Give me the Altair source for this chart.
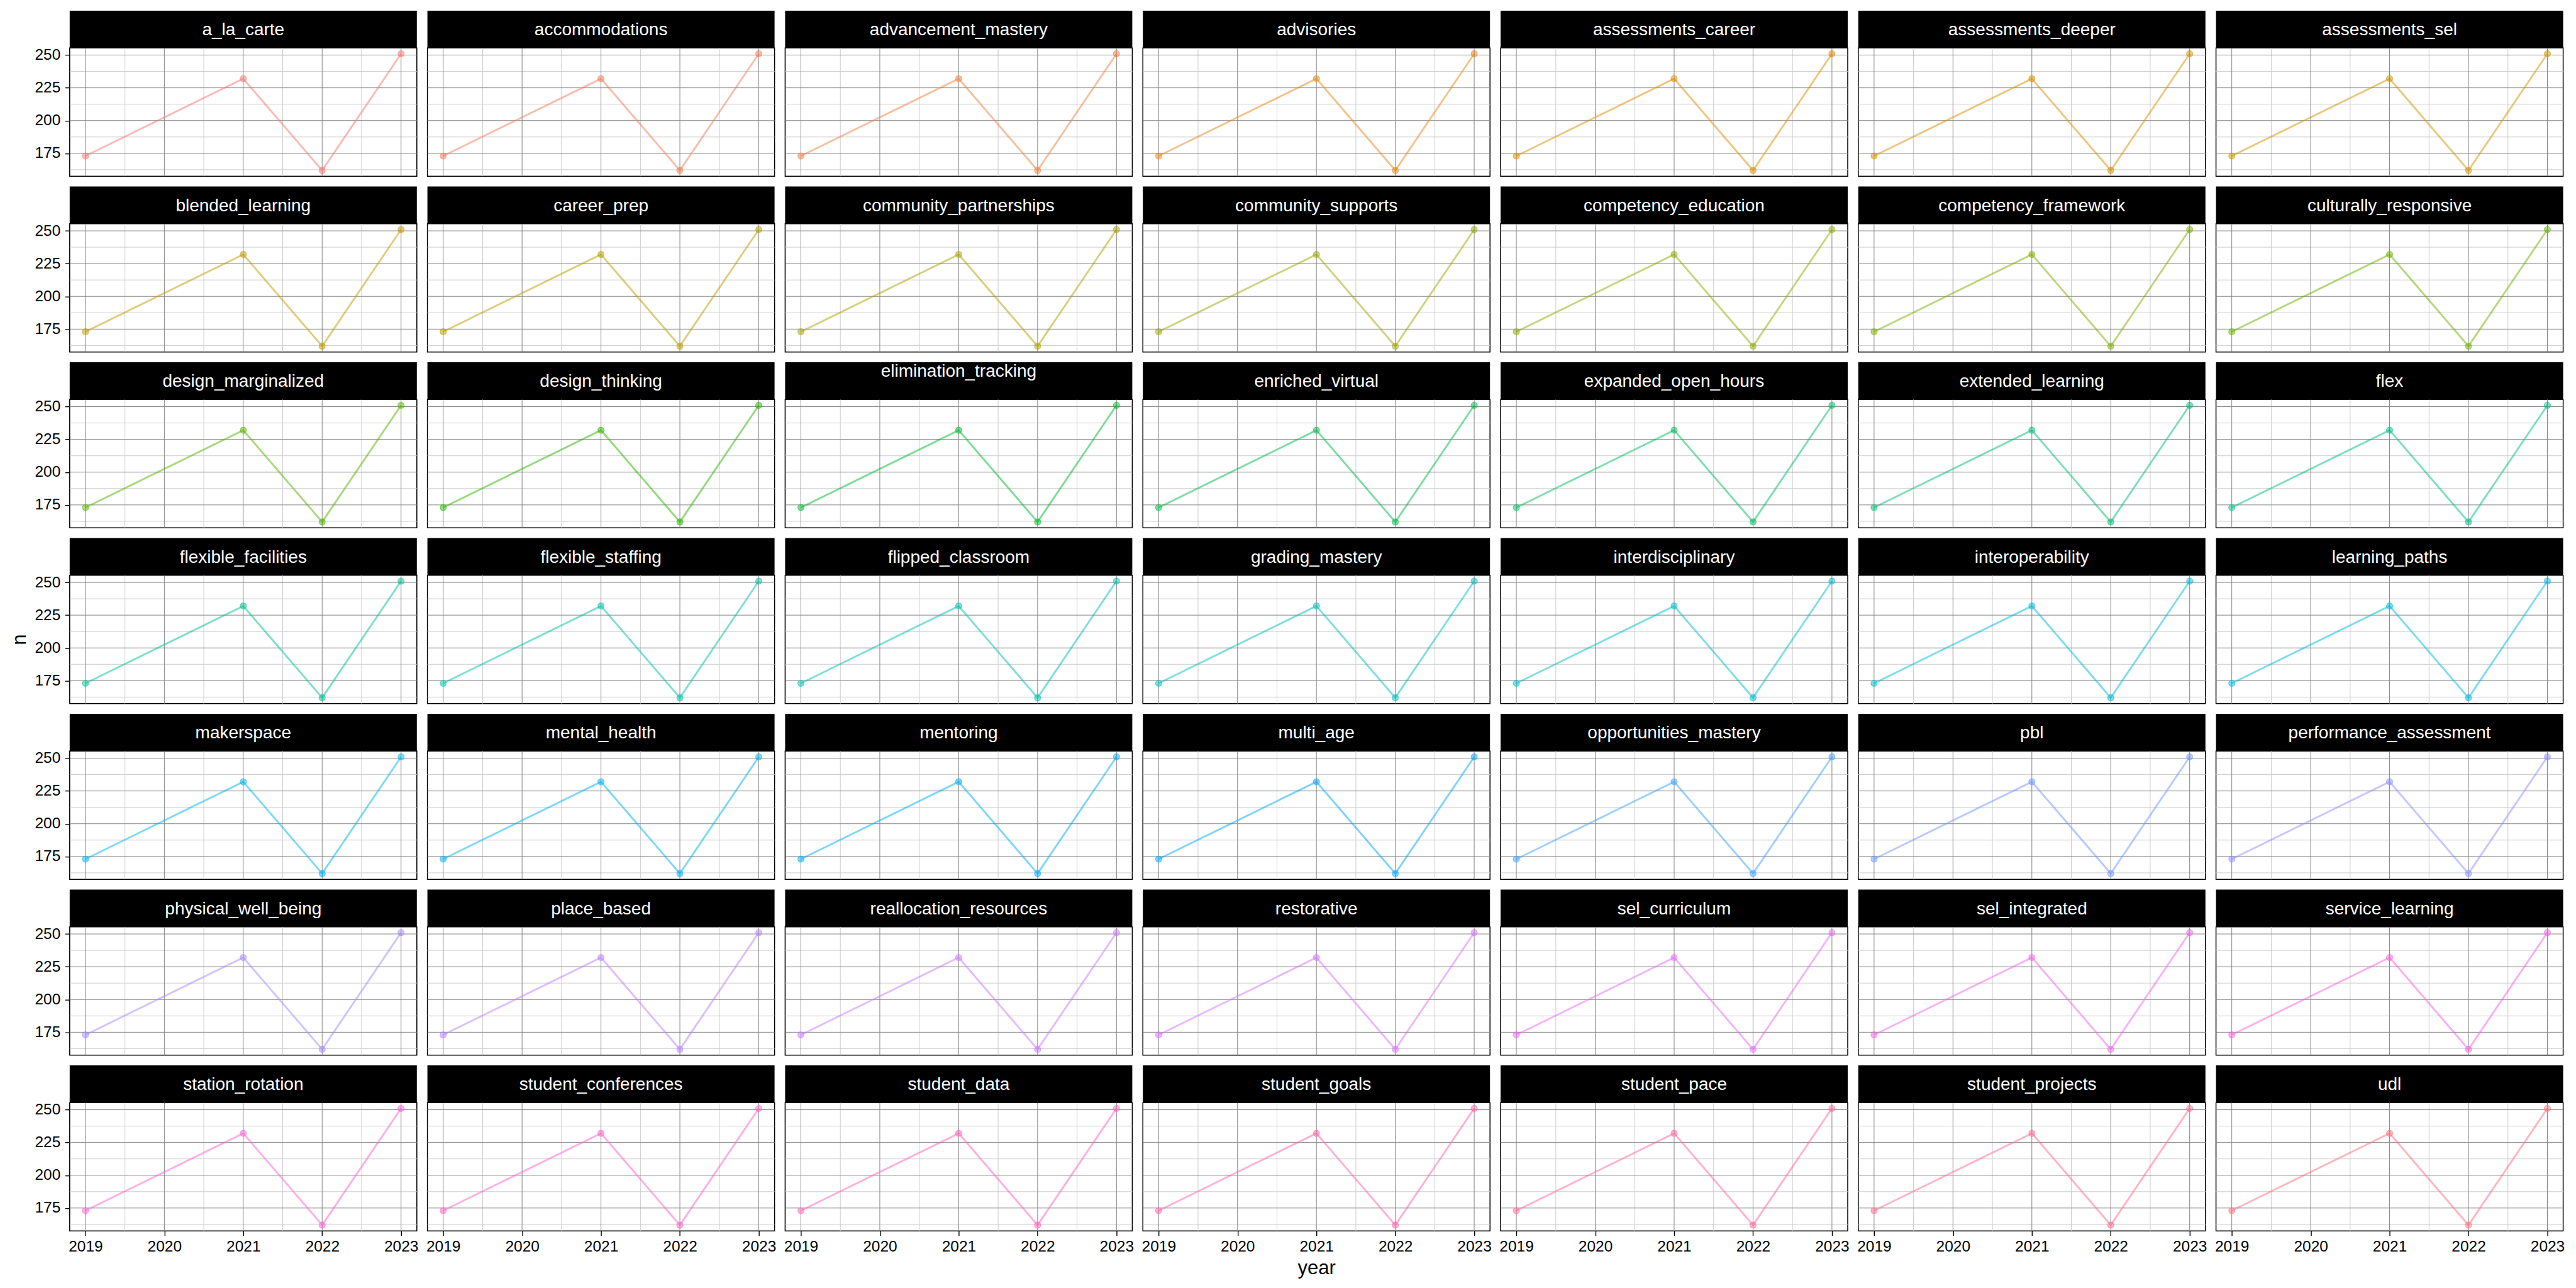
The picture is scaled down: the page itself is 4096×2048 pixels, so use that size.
import math
import altair as alt
import pandas as pd

# ---------------- data ----------------
categories = [
    "a_la_carte", "accommodations", "advancement_mastery", "advisories",
    "assessments_career", "assessments_deeper", "assessments_sel",
    "blended_learning", "career_prep", "community_partnerships", "community_supports",
    "competency_education", "competency_framework", "culturally_responsive",
    "design_marginalized", "design_thinking", "elimination_tracking", "enriched_virtual",
    "expanded_open_hours", "extended_learning", "flex",
    "flexible_facilities", "flexible_staffing", "flipped_classroom", "grading_mastery",
    "interdisciplinary", "interoperability", "learning_paths",
    "makerspace", "mental_health", "mentoring", "multi_age",
    "opportunities_mastery", "pbl", "performance_assessment",
    "physical_well_being", "place_based", "reallocation_resources", "restorative",
    "sel_curriculum", "sel_integrated", "service_learning",
    "station_rotation", "student_conferences", "student_data", "student_goals",
    "student_pace", "student_projects", "udl",
]
years = [2019, 2021, 2022, 2023]
n_values = [173, 232, 162, 251]          # same series in every panel

x_breaks = [2019, 2020, 2021, 2022, 2023]
x_minor = [2019.5, 2020.5, 2021.5, 2022.5]
y_breaks = [175, 200, 225, 250]
y_minor = [162.5, 187.5, 212.5, 237.5]

# ---------------- styling ----------------
NCOL = 7
W, H = 552, 204          # plot area of one panel
SH = 59.3                # strip height
COL_GAP, ROW_GAP = 16.8, 16.2
FONT = "Liberation Sans"
MAJOR = "#858585"
MINOR = "#cccccc"


def hcl_hex(h, c=100.0, l=65.0):
    """R's hcl() -> hex (D65 white)."""
    Xn, Yn, Zn = 95.047, 100.0, 108.883
    hr = math.radians(h)
    U, V = c * math.cos(hr), c * math.sin(hr)
    Y = Yn * (((l + 16.0) / 116.0) ** 3 if l > 7.999592 else l / 903.3)
    t = Xn + Yn + Zn
    x, y = Xn / t, Yn / t
    uN = 2 * x / (6 * y - x + 1.5)
    vN = 4.5 * y / (6 * y - x + 1.5)
    u = U / (13 * l) + uN
    v = V / (13 * l) + vN
    X = 9.0 * Y * u / (4 * v)
    Z = -X / 3 - 5 * Y + 3 * Y / v

    def g(val):
        val = val / Yn
        val = 1.055 * val ** (1 / 2.4) - 0.055 if val > 0.00304 else 12.92 * val
        return max(0, min(255, int(round(255 * max(0.0, min(1.0, val))))))

    r = g(3.240479 * X - 1.537150 * Y - 0.498535 * Z)
    gg = g(-0.969256 * X + 1.875992 * Y + 0.041556 * Z)
    b = g(0.055648 * X - 0.204043 * Y + 1.057311 * Z)
    return "#%02X%02X%02X" % (r, gg, b)


ncat = len(categories)
colors = [hcl_hex(15 + i * 360.0 / ncat) for i in range(ncat)]

# ggplot-like 5% expansion
yr = max(n_values) - min(n_values)
y_dom = [min(n_values) - 0.05 * yr, max(n_values) + 0.05 * yr]
xr = max(years) - min(years)
x_dom = [min(years) - 0.05 * xr, max(years) + 0.05 * xr]

raised_labels = {"elimination_tracking"}

panels = []
for i, cat in enumerate(categories):
    r, c = divmod(i, NCOL)
    nrows = (ncat + NCOL - 1) // NCOL
    df = pd.DataFrame({"category": cat, "year": years, "n": n_values})
    col = colors[i]

    # axes
    if c == 0:
        yargs = dict(values=y_breaks, grid=False, domain=False, ticks=True,
                     tickSize=7.5, tickWidth=1.4, tickColor="black",
                     labelFontSize=24.5, labelColor="black", labelPadding=7.5,
                     labelFlush=False, labelOverlap=False, labelFont=FONT)
        if r == 3:
            yargs.update(title="n", titleFontSize=31, titleFont=FONT,
                         titleFontWeight="normal", titleColor="black",
                         titleAngle=270, titleX=-79.8, titleY=H / 2,
                         titleBaseline="middle", titleAlign="center")
        else:
            yargs.update(title=None)
        y_axis = alt.Axis(**yargs)
    else:
        y_axis = None
    if r == nrows - 1:
        xargs = dict(values=x_breaks, format="d", grid=False, domain=False, ticks=True,
                     tickSize=7.5, tickWidth=1.4, tickColor="black",
                     labelFontSize=24.5, labelColor="black", labelPadding=5.5,
                     labelFlush=False, labelOverlap=False, labelFont=FONT)
        if c == 3:
            xargs.update(title="year", titleFontSize=31, titleFont=FONT,
                         titleFontWeight="normal", titleColor="black",
                         titleX=W / 2, titleY=68.7, titleBaseline="alphabetic",
                         titleAlign="center")
        else:
            xargs.update(title=None)
        x_axis = alt.Axis(**xargs)
    else:
        x_axis = None

    x_enc = alt.X("year:Q", scale=alt.Scale(domain=x_dom, nice=False, zero=False), axis=x_axis)
    y_enc = alt.Y("n:Q", scale=alt.Scale(domain=y_dom, nice=False, zero=False), axis=y_axis)

    minor_v = alt.Chart(pd.DataFrame({"year": x_minor})).mark_rule(
        color=MINOR, strokeWidth=1).encode(x=x_enc)
    minor_h = alt.Chart(pd.DataFrame({"n": y_minor})).mark_rule(
        color=MINOR, strokeWidth=1).encode(y=y_enc)
    major_v = alt.Chart(pd.DataFrame({"year": x_breaks})).mark_rule(
        color=MAJOR, strokeWidth=1).encode(x=x_enc)
    major_h = alt.Chart(pd.DataFrame({"n": y_breaks})).mark_rule(
        color=MAJOR, strokeWidth=1).encode(y=y_enc)

    line = alt.Chart(df).mark_line(color=col, opacity=0.5, strokeWidth=3.0).encode(
        x=x_enc, y=y_enc)
    pts = alt.Chart(df).mark_circle(
        size=100, fill=col, stroke=col, fillOpacity=0.5, strokeOpacity=0.5,
        strokeWidth=1.2, opacity=1).encode(x=x_enc, y=y_enc)

    lab = pd.DataFrame({"label": [cat]})
    strip = alt.Chart(lab).mark_rect(color="black").encode(
        x=alt.value(0), x2=alt.value(W), y=alt.value(-SH), y2=alt.value(0))
    base_off = 23.5 if cat in raised_labels else 39.4
    strip_txt = alt.Chart(lab).mark_text(
        color="white", fontSize=28, font=FONT, align="center",
        baseline="alphabetic").encode(
        x=alt.value(W / 2), y=alt.value(-SH + base_off), text=alt.Text("label:N"))

    panel = alt.layer(minor_v, minor_h, major_v, major_h, line, pts, strip, strip_txt
                      ).properties(width=W, height=H)
    panels.append(panel)

chart = alt.concat(
    *panels, columns=NCOL,
    spacing={"row": SH + ROW_GAP, "column": COL_GAP},
    bounds="flush",
).properties(
    padding={"left": 13.8, "top": 15.2, "right": 5, "bottom": 5},
    background="white",
).configure(font=FONT).configure_view(stroke="black", strokeWidth=1.5)

chart.save("out.html", embed_options={"renderer": "svg", "actions": False})
